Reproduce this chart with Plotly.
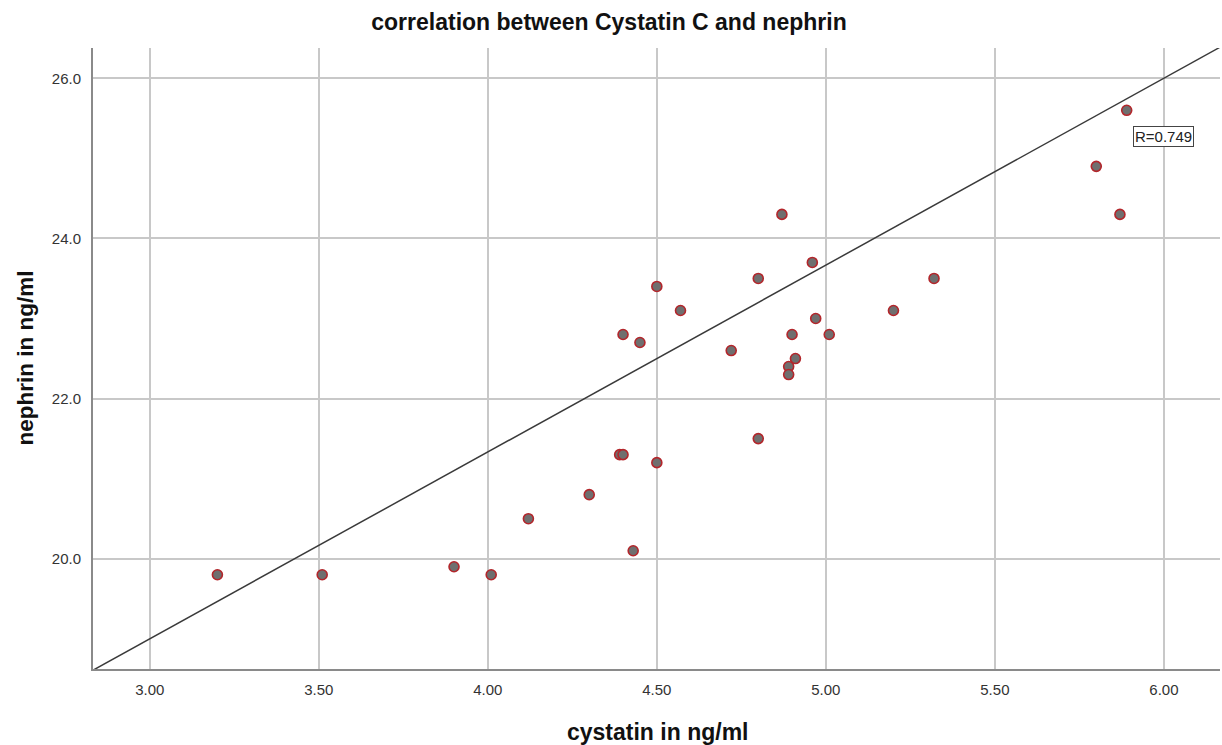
import plotly.graph_objects as go
import numpy as np

# Data
cystatin = [3.20, 3.51, 3.90, 4.01, 4.12, 4.30, 4.39, 4.40, 4.43, 4.50,
            4.40, 4.45, 4.50, 4.57, 4.72, 4.80, 4.80, 4.87, 4.89, 4.89,
            4.90, 4.91, 4.96, 4.97, 5.01, 5.20, 5.32, 5.80, 5.87, 5.89]
nephrin = [19.8, 19.8, 19.9, 19.8, 20.5, 20.8, 21.3, 21.3, 20.1, 21.2,
           22.8, 22.7, 23.4, 23.1, 22.6, 21.5, 23.5, 24.3, 22.4, 22.3,
           22.8, 22.5, 23.7, 23.0, 22.8, 23.1, 23.5, 24.9, 24.3, 25.6]

fit_intercept = 12.0
fit_slope = 7.0 / 3.0
r_label = "R=0.749"
x_ticks = [3.0, 3.5, 4.0, 4.5, 5.0, 5.5, 6.0]
y_ticks = [20.0, 22.0, 24.0, 26.0]
x_range = [2.832, 6.166]
y_range = [18.623, 26.378]

line_x = np.array(x_range)
line_y = fit_intercept + fit_slope * line_x

fig = go.Figure()
fig.add_trace(go.Scatter(
    x=line_x, y=line_y, mode="lines",
    line=dict(color="#3a3a3a", width=1.5),
    hoverinfo="skip", showlegend=False, cliponaxis=True,
))
fig.add_trace(go.Scatter(
    x=cystatin, y=nephrin, mode="markers",
    marker=dict(size=10, color="#6f6f6f", line=dict(color="#b3262b", width=1.6)),
    showlegend=False,
))

font_family = "Liberation Sans, Arial, sans-serif"

fig.update_layout(
    width=1222, height=745,
    margin=dict(l=93, r=2, t=48, b=76),
    paper_bgcolor="white", plot_bgcolor="white",
    font=dict(family=font_family, color="#333333"),
    title=dict(text="<b>correlation between Cystatin C and nephrin</b>",
               x=(368 + 850) / 2 / 1222, xanchor="center", y=1 - 22 / 745, yanchor="middle",
               yref="container", font=dict(size=23, color="#111111")),
    xaxis=dict(range=x_range, tickvals=x_ticks, ticktext=[f"{v:.2f}" for v in x_ticks],
               showgrid=True, gridcolor="#c8c8c8", gridwidth=1.5,
               showline=True, linecolor="#8a8a8a", linewidth=2,
               zeroline=False, ticks="", ticklabelstandoff=6,
               tickfont=dict(size=15, color="#333333")),
    yaxis=dict(range=y_range, tickvals=y_ticks, ticktext=[f"{v:.1f}" for v in y_ticks],
               showgrid=True, gridcolor="#c8c8c8", gridwidth=1.5,
               showline=True, linecolor="#8a8a8a", linewidth=2,
               zeroline=False, ticks="", ticklabelstandoff=7,
               tickfont=dict(size=15, color="#333333")),
    annotations=[
        dict(text="<b>cystatin in ng/ml</b>", xref="paper", yref="paper",
             x=(657 - 93) / (1220 - 93), y=-(732 - 669) / (669 - 48), xanchor="center", yanchor="middle",
             showarrow=False, font=dict(size=23, color="#111111")),
        dict(text="<b>nephrin in ng/ml</b>", xref="paper", yref="paper",
             x=-(93 - 25) / (1220 - 93), y=(669 - 358.5) / (669 - 48), xanchor="center", yanchor="middle",
             textangle=-90, showarrow=False, font=dict(size=22.5, color="#111111")),
        dict(text=r_label, x=6.0, y=25.27, xref="x", yref="y",
             showarrow=False, bgcolor="white", bordercolor="#444444",
             borderwidth=1, borderpad=1, font=dict(size=15, color="#222222")),
    ],
)

fig.write_html("out.html")
